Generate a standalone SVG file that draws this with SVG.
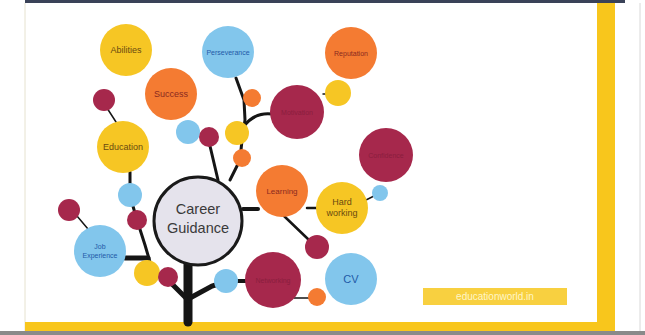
<svg xmlns="http://www.w3.org/2000/svg" width="645" height="335" viewBox="0 0 645 335">
<style>
.y{fill:#f6c624}.o{fill:#f47b32}.b{fill:#82c6ec}.m{fill:#a6284c}
.t{font-family:"Liberation Sans",Arial,sans-serif;font-size:9px;text-anchor:middle}
.s7{font-size:7px}.s8{font-size:8px}.s11{font-size:11px}.s14{font-size:14.5px}
.tm{fill:#8a1e3e}.tb{fill:#1f5aa8}.td{fill:#6a4a10}.tr{fill:#8a2a20}.tc{fill:#3a3a3a}
.w{stroke:#151515;fill:none;stroke-linecap:round}
</style>
<rect width="645" height="335" fill="#ffffff"/>
<rect x="25" y="0" width="600" height="3" fill="#3a4258"/>
<line x1="25" y1="3" x2="25" y2="331" stroke="#e6e2cf" stroke-width="1"/>
<line x1="640" y1="3" x2="640" y2="331" stroke="#d8d8d8" stroke-width="1"/>
<rect x="0" y="331" width="645" height="4" fill="#8a8a8a"/>
<rect x="597" y="3" width="18" height="328" fill="#f8c61c"/>
<rect x="25" y="322" width="590" height="9" fill="#f8c61c"/>
<g id="connectors">
<path class="w" stroke-width="9" d="M188 262 L188 322"/>
<path class="w" stroke-width="5" d="M188 300 L170 282 L150 270"/>
<path class="w" stroke-width="5" d="M190 298 L212 286 L225 282"/>
<path class="w" stroke-width="4" d="M237 281 L248 281"/>
<path class="w" stroke-width="5" d="M125 258 L148 258"/>
<path class="w" stroke-width="3" d="M130 172 L130 196 L137 220 L145 245 L150 262"/>
<path class="w" stroke-width="1.5" d="M77 216 L88 229"/>
<path class="w" stroke-width="1.5" d="M107 108 L116 122"/>
<path class="w" stroke-width="3" d="M210 146 L218 180"/>
<path class="w" stroke-width="3" d="M230 180 L240 160 L242 140 L245 120 L244 100 L236 78"/>
<path class="w" stroke-width="3" d="M244 126 Q255 112 272 114"/>
<path class="w" stroke-width="4" d="M243 209 L258 209"/>
<path class="w" stroke-width="2.5" d="M307 208 L318 208"/>
<path class="w" stroke-width="2.5" d="M284 216 L309 240"/>
<path class="w" stroke-width="1.5" d="M366 200 L376 195"/>
<path class="w" stroke-width="1.5" d="M294 298 L309 298"/>
<path class="w" stroke-width="1.5" d="M323 94 L327 94"/>
</g>
<g id="n-abilities"><circle class="y" cx="126" cy="50" r="26"/><text class="t td" x="126" y="53">Abilities</text></g>
<g id="n-perseverance"><circle class="b" cx="228" cy="52" r="26"/><text class="t tb s7" x="228" y="55">Perseverance</text></g>
<g id="n-success"><circle class="o" cx="171" cy="94" r="26"/><text class="t tr" x="171" y="97">Success</text></g>
<g id="n-reputation"><circle class="o" cx="351" cy="53" r="26"/><text class="t tr s7" x="351" y="56">Reputation</text></g>
<g id="n-dot1"><circle class="m" cx="104" cy="100" r="11"/></g>
<g id="n-education"><circle class="y" cx="123" cy="147" r="26"/><text class="t td" x="123" y="150">Education</text></g>
<g id="n-dot2"><circle class="b" cx="188" cy="132" r="12"/></g>
<g id="n-dot3"><circle class="m" cx="209" cy="137" r="10"/></g>
<g id="n-dot4"><circle class="o" cx="252" cy="98" r="9"/></g>
<g id="n-dot5"><circle class="y" cx="237" cy="133" r="12"/></g>
<g id="n-dot6"><circle class="o" cx="242" cy="158" r="9"/></g>
<g id="n-dot7"><circle class="y" cx="338" cy="93" r="13"/></g>
<g id="n-maroon1"><circle class="m" cx="297" cy="112" r="27"/><text class="t tm s7" x="297" y="115">Motivation</text></g>
<g id="n-maroon2"><circle class="m" cx="386" cy="155" r="27"/><text class="t tm s7" x="386" y="158">Confidence</text></g>
<g id="n-dot8"><circle class="b" cx="130" cy="195" r="12"/></g>
<g id="n-dot9"><circle class="m" cx="137" cy="220" r="10"/></g>
<g id="n-dot10"><circle class="m" cx="69" cy="210" r="11"/></g>
<g id="n-job"><circle class="b" cx="100" cy="251" r="26"/><text class="t tb s7" x="100" y="249">Job</text><text class="t tb s7" x="100" y="258">Experience</text></g>
<g id="n-dot11"><circle class="y" cx="147" cy="273" r="13"/></g>
<g id="n-dot12"><circle class="m" cx="168" cy="277" r="10"/></g>
<g id="n-dot13"><circle class="b" cx="226" cy="281" r="12"/></g>
<g id="n-career"><circle cx="198" cy="221" r="44" fill="#e5e3ec" stroke="#1a1a1a" stroke-width="3"/><text class="t tc s14" x="198" y="214">Career</text><text class="t tc s14" x="198" y="233">Guidance</text></g>
<g id="n-learning"><circle class="o" cx="282" cy="191" r="26"/><text class="t tr s8" x="282" y="194">Learning</text></g>
<g id="n-hard"><circle class="y" cx="342" cy="208" r="26"/><text class="t td" x="342" y="205">Hard</text><text class="t td" x="342" y="216">working</text></g>
<g id="n-dot14"><circle class="b" cx="380" cy="193" r="8"/></g>
<g id="n-dot15"><circle class="m" cx="317" cy="247" r="12"/></g>
<g id="n-maroon3"><circle class="m" cx="273" cy="280" r="28"/><text class="t tm s7" x="273" y="283">Networking</text></g>
<g id="n-cv"><circle class="b" cx="351" cy="279" r="26"/><text class="t tb s11" x="351" y="283">CV</text></g>
<g id="n-dot16"><circle class="o" cx="317" cy="297" r="9"/></g>
<g id="badge"><rect x="423" y="288" width="144" height="17" fill="#f8d040"/><text x="495" y="300" font-family="'Liberation Sans',Arial,sans-serif" font-size="10" text-anchor="middle" fill="#fff6c8">educationworld.in</text></g>
</svg>
